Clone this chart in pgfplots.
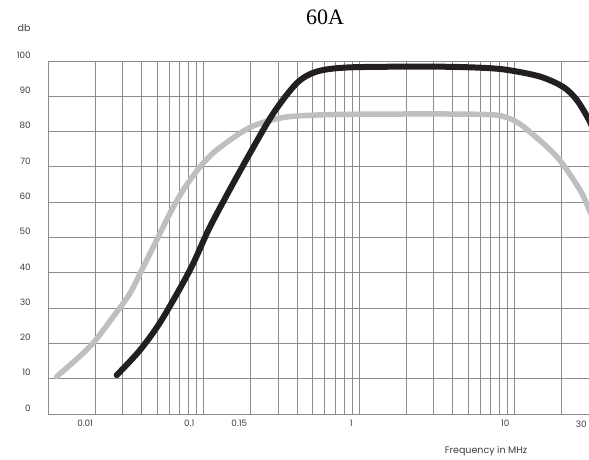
\documentclass[border=0pt]{standalone}
\usepackage{pgfplots}
\pgfplotsset{compat=1.18}
\usepackage{fontspec}
\newfontfamily\labelfont{Poppins}
\newfontfamily\titlefont{Liberation Serif}
\definecolor{gridgray}{RGB}{140,140,140}
\definecolor{curvegray}{RGB}{190,191,193}
\definecolor{curveblack}{RGB}{35,31,32}
\definecolor{labelgray}{RGB}{60,60,60}
\begin{document}
\begin{tikzpicture}[x=1pt,y=1pt]
\useasboundingbox (0,0) rectangle (589,459);
\begin{axis}[
  at={(48.3pt,45pt)}, anchor=south west,
  scale only axis, width=540.7pt, height=353pt,
  xmode=log, xmin=0.01, xmax=30, ymin=0, ymax=100,
  axis line style={draw=none},
  xtick={0.01727,0.0807,0.1692,0.8884,8.689,26.78},
  xticklabels={0.01,0.1,0.15,1,10,30},
  minor xtick={0.01,0.02,0.03,0.04,0.05,0.06,0.07,0.08,0.09,
               0.1,0.2,0.3,0.4,0.5,0.6,0.7,0.8,0.9,
               1,2,3,4,5,6,7,8,9,10,20,30},
  xmajorgrids=false, xminorgrids=true,
  ytick={0,10,...,100},
  yticklabels={0,10,20,30,40,50,60,70,80,90,100},
  ymajorgrids=true,
  major tick length=0pt, minor tick length=0pt,
  grid style={draw=gridgray, line width=0.9pt},
  minor grid style={draw=gridgray, line width=0.9pt},
  xticklabel style={font=\labelfont\fontsize{8.8}{10}\selectfont, text=labelgray, yshift=-3pt},
  yticklabel style={font=\labelfont\fontsize{8.8}{10}\selectfont, text=labelgray, anchor=east, xshift=-14pt, yshift=6pt},
  clip=true,
]
\addplot[draw=curvegray, line width=5.5pt, line cap=round, smooth] coordinates {
(0.01132,10.6) (0.01854,19.1) (0.02619,27.6) (0.03354,34.2) (0.04083,41.7) (0.04981,49.3)
(0.06066,56.9) (0.07386,63.5) (0.09456,70.0) (0.1211,74.8) (0.1983,81.2) (0.3247,84.0)
(0.5326,84.7) (0.8722,84.9) (3.0,85.0) (6.9,84.8) (8.9,84.0) (11.36,81.4) (18.62,72.9)
(26.3,63.4) (30,58) (33,54)
};
\addplot[draw=curveblack, line width=6pt, line cap=round, smooth] coordinates {
(0.02754,11) (0.03888,18.1) (0.0535,26.6) (0.0815,40.8) (0.107,52.1) (0.1405,62)
(0.1983,73.9) (0.2801,85.2) (0.3960,93.7) (0.5326,97) (0.8722,98.2) (3,98.4) (6,98.1)
(8.87,97.5) (14.5,95.6) (20.4,92.7) (25,89) (30,83.3) (33,79)
};
\end{axis}
\node[font=\titlefont\fontsize{22}{24}\selectfont] at (325,442) {60A};
\node[font=\labelfont\fontsize{9.5}{11}\selectfont, text=labelgray] at (24,431) {db};
\node[font=\labelfont\fontsize{9.5}{11}\selectfont, text=labelgray] at (486,8) {Frequency in MHz};
\end{tikzpicture}
\end{document}
